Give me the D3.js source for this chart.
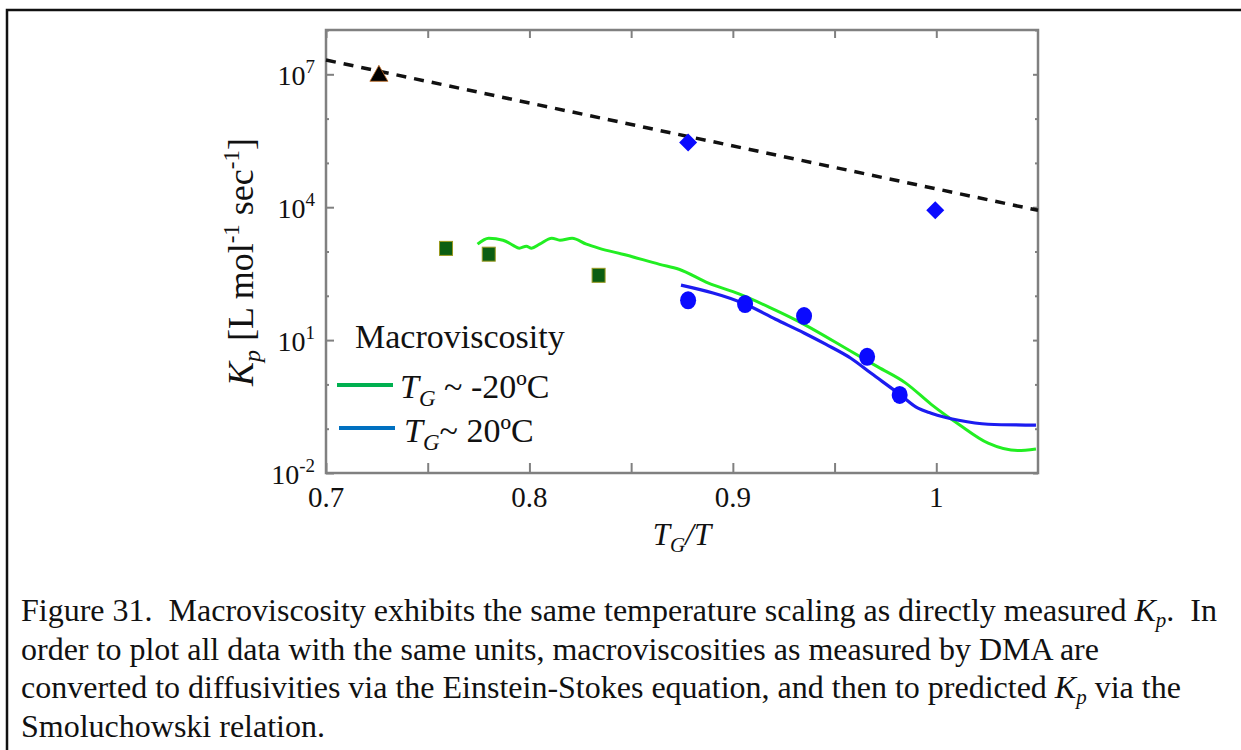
<!DOCTYPE html>
<html lang="en">
<head>
<meta charset="UTF-8">
<title>Figure 31</title>
<script src="https://cdn.jsdelivr.net/npm/d3@7/dist/d3.min.js"></script>
<style>
  body { margin: 0; background: #fff; }
  svg text { font-family: "Liberation Serif", "Times New Roman", serif; fill: #111; }
  .caption { white-space: pre; }
</style>
</head>
<body>
<div id="chart"></div>
<script>
// data (x = TG/T, y = Kp)
const dashX = [0.7, 1.05];
const dashY = [2.1e7, 8.5e3];

const triX = [0.726];
const triY = [1.0e7];

const diamondX = [0.878, 0.9995];
const diamondY = [2.9e5, 8.5e3];

const squareX = [0.759, 0.780, 0.834];
const squareY = [1175, 870, 290];

const circleX = [0.878, 0.906, 0.935, 0.966, 0.982];
const circleY = [79, 65, 35, 4.2, 0.58];

// macroviscosity, TG ~ -20C
const greenX = [0.7745, 0.780, 0.787, 0.792, 0.795, 0.7985, 0.801, 0.805, 0.811, 0.815, 0.821, 0.828, 0.834,
  0.8475, 0.864, 0.8735, 0.888, 0.903, 0.918, 0.932, 0.958, 0.9715, 0.985, 0.9975, 1.011, 1.0255, 1.040, 1.049];
const greenY = [1462, 1995, 1799, 1380, 1189, 1318, 1189, 1462, 1995, 1799, 1995, 1462, 1189,
  832, 513, 398, 193, 110, 55, 26.9, 5.6, 2.45, 1.07, 0.355, 0.126, 0.047, 0.032, 0.035];

// macroviscosity, TG ~ 20C
const blueX = [0.8745, 0.906, 0.921, 0.935, 0.9456, 0.958, 0.968, 0.982, 0.991, 0.9975, 1.011, 1.0255, 1.049];
const blueY = [174, 65, 29.5, 14.5, 8.1, 3.9, 1.78, 0.60, 0.29, 0.224, 0.155, 0.126, 0.120];

const xTicks = [0.7, 0.75, 0.8, 0.85, 0.9, 0.95, 1.0];
const xLabels = ['0.7', '', '0.8', '', '0.9', '', '1'];
const yTicks = [1e-2, 1e-1, 1, 1e1, 1e2, 1e3, 1e4, 1e5, 1e6, 1e7, 1e8];
const yLabelExp = ['-2', '1', '4', '7'];

const captionLines = [
  ['Figure 31.  Macroviscosity exhibits the same temperature scaling as directly measured ', 'K', 'p', '.  In'],
  ['order to plot all data with the same units, macroviscosities as measured by DMA are'],
  ['converted to diffusivities via the Einstein-Stokes equation, and then to predicted ', 'K', 'p', ' via the'],
  ['Smoluchowski relation.']
];

const W = 1241, H = 750;
const plot = { left: 326, right: 1038, top: 30, bottom: 473 };
const axisColor = '#808080';

const svg = d3.select('#chart').append('svg')
  .attr('width', W).attr('height', H);

// page frame (top and left rules)
svg.append('path')
  .attr('d', `M7,${H} L7,10 L${W},10`)
  .attr('fill', 'none').attr('stroke', '#111').attr('stroke-width', 2.5);

const x = d3.scaleLinear().domain([0.7, 1.05]).range([plot.left, plot.right]);
const y = d3.scaleLog().domain([1e-2, 1e8]).range([plot.bottom, plot.top]);

const g = svg.append('g');

// axes box
g.append('rect')
  .attr('x', plot.left).attr('y', plot.top)
  .attr('width', plot.right - plot.left).attr('height', plot.bottom - plot.top)
  .attr('fill', 'none').attr('stroke', axisColor).attr('stroke-width', 2.5);

const majorY = d => [1e-2, 1e1, 1e4, 1e7].includes(d);

// inward ticks
const bottomAxis = d3.axisBottom(x).tickValues(xTicks).tickSize(-10).tickFormat('');
const topAxis = d3.axisTop(x).tickValues(xTicks).tickSize(-8).tickFormat('');
g.append('g').attr('transform', `translate(0,${plot.bottom})`).call(bottomAxis);
g.append('g').attr('transform', `translate(0,${plot.top})`).call(topAxis);

const leftAxis = d3.axisLeft(y).tickValues(yTicks).tickSize(0).tickFormat('');
const leftG = g.append('g').attr('transform', `translate(${plot.left},0)`).call(leftAxis);
leftG.selectAll('.tick line').attr('x2', d => majorY(d) ? 8 : 3);
const rightAxis = d3.axisRight(y).tickValues(yTicks).tickSize(0).tickFormat('');
const rightG = g.append('g').attr('transform', `translate(${plot.right},0)`).call(rightAxis);
rightG.selectAll('.tick line').attr('x2', d => majorY(d) ? -5 : -3);

g.selectAll('.domain').remove();
g.selectAll('.tick line').attr('stroke', axisColor).attr('stroke-width', 2);

// tick labels
xTicks.forEach((t, i) => {
  if (!xLabels[i]) return;
  svg.append('text')
    .attr('x', x(t)).attr('y', 507)
    .attr('text-anchor', 'middle').attr('font-size', 29)
    .text(xLabels[i]);
});

[1e-2, 1e1, 1e4, 1e7].forEach((t, i) => {
  const txt = svg.append('text')
    .attr('x', 315).attr('y', y(t) + 11)
    .attr('text-anchor', 'end').attr('font-size', 28);
  txt.append('tspan').text('10');
  txt.append('tspan').attr('dy', -12).attr('font-size', 19).text(yLabelExp[i]);
});

// axis titles
const yTitle = svg.append('text')
  .attr('transform', 'translate(253,262) rotate(-90)')
  .attr('text-anchor', 'middle').attr('font-size', 36);
yTitle.append('tspan').attr('font-style', 'italic').text('K');
yTitle.append('tspan').attr('font-style', 'italic').attr('font-size', 24).attr('dy', 7).text('p');
yTitle.append('tspan').attr('dy', -7).text(' [L mol');
yTitle.append('tspan').attr('font-size', 23).attr('dy', -14).text('-1');
yTitle.append('tspan').attr('dy', 14).text(' sec');
yTitle.append('tspan').attr('font-size', 23).attr('dy', -14).text('-1');
yTitle.append('tspan').attr('dy', 14).text(']');

const xTitle = svg.append('text')
  .attr('x', 682).attr('y', 545)
  .attr('text-anchor', 'middle').attr('font-size', 31).attr('font-style', 'italic');
xTitle.append('tspan').text('T');
xTitle.append('tspan').attr('font-size', 21).attr('dy', 7).text('G');
xTitle.append('tspan').attr('dy', -7).text('/T');

// lines
const line = d3.line().x(d => x(d[0])).y(d => y(d[1]));
const zip = (a, b) => a.map((v, i) => [v, b[i]]);

g.append('path')
  .datum(zip(greenX, greenY))
  .attr('d', line.curve(d3.curveMonotoneX))
  .attr('fill', 'none').attr('stroke', '#22ee22').attr('stroke-width', 3);

g.append('path')
  .datum(zip(blueX, blueY))
  .attr('d', line.curve(d3.curveMonotoneX))
  .attr('fill', 'none').attr('stroke', '#1c1cf0').attr('stroke-width', 3.2);

g.append('path')
  .datum(zip(dashX, dashY))
  .attr('d', line.curve(d3.curveLinear))
  .attr('fill', 'none').attr('stroke', '#111').attr('stroke-width', 3.5)
  .attr('stroke-dasharray', '10,8');

// markers
g.selectAll('.sq').data(zip(squareX, squareY)).enter().append('rect')
  .attr('class', 'sq')
  .attr('x', d => x(d[0]) - 6.5).attr('y', d => y(d[1]) - 7)
  .attr('width', 13).attr('height', 14)
  .attr('fill', '#0b5e12').attr('stroke', '#9a9a20').attr('stroke-width', 1);

g.selectAll('.dm').data(zip(diamondX, diamondY)).enter().append('path')
  .attr('class', 'dm')
  .attr('transform', d => `translate(${x(d[0])},${y(d[1])})`)
  .attr('d', 'M0,-9 L9,0 L0,9 L-9,0 Z')
  .attr('fill', '#0a0aff');

g.selectAll('.tri').data(zip(triX, triY)).enter().append('path')
  .attr('class', 'tri')
  .attr('transform', d => `translate(${x(d[0])},${y(d[1])})`)
  .attr('d', 'M0,-9 L9,7 L-9,7 Z')
  .attr('fill', '#000').attr('stroke', '#c06a20').attr('stroke-width', 0.8);

g.selectAll('.ci').data(zip(circleX, circleY)).enter().append('ellipse')
  .attr('class', 'ci')
  .attr('cx', d => x(d[0])).attr('cy', d => y(d[1]))
  .attr('rx', 8).attr('ry', 9)
  .attr('fill', '#0a0aff');

// legend
svg.append('text').attr('x', 355).attr('y', 348).attr('font-size', 34).text('Macroviscosity');

svg.append('line').attr('x1', 337).attr('x2', 393).attr('y1', 385).attr('y2', 385)
  .attr('stroke', '#00b050').attr('stroke-width', 4);
const l1 = svg.append('text').attr('x', 400).attr('y', 398).attr('font-size', 34);
l1.append('tspan').attr('font-style', 'italic').text('T');
l1.append('tspan').attr('font-style', 'italic').attr('font-size', 23).attr('dy', 8).text('G');
l1.append('tspan').attr('dy', -8).text(' ~ -20ºC');

svg.append('line').attr('x1', 339).attr('x2', 395).attr('y1', 428).attr('y2', 428)
  .attr('stroke', '#0070c0').attr('stroke-width', 4);
const l2 = svg.append('text').attr('x', 404).attr('y', 442).attr('font-size', 34);
l2.append('tspan').attr('font-style', 'italic').text('T');
l2.append('tspan').attr('font-style', 'italic').attr('font-size', 23).attr('dy', 8).text('G');
l2.append('tspan').attr('dy', -8).text('~ 20ºC');

// caption
captionLines.forEach((parts, i) => {
  const t = svg.append('text').attr('class', 'caption')
    .attr('x', 21).attr('y', 621 + i * 38.5).attr('font-size', 32);
  if (parts.length === 1) { t.text(parts[0]); return; }
  t.append('tspan').text(parts[0]);
  t.append('tspan').attr('font-style', 'italic').text(parts[1]);
  t.append('tspan').attr('font-style', 'italic').attr('font-size', 21).attr('dy', 6).text(parts[2]);
  t.append('tspan').attr('dy', -6).text(parts[3]);
});
</script>
</body>
</html>
